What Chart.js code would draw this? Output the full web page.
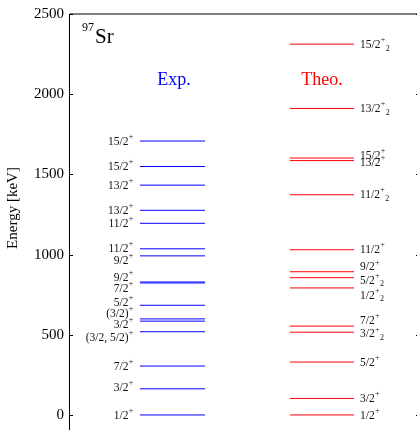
<!DOCTYPE html>
<html>
<head>
<meta charset="utf-8">
<script src="https://cdn.jsdelivr.net/npm/chart.js@4/dist/chart.umd.min.js"></script>
<style>
  html, body { margin: 0; padding: 0; overflow: hidden; background: #fff; }
</style>
</head>
<body>
<canvas id="c" width="422" height="445"></canvas>
<script>
// 97Sr level scheme, experiment vs theory (energies in keV)
const expEnergies = [0, 163, 305, 519, 585, 599, 684, 823, 829, 992, 1036, 1195, 1276, 1433, 1549, 1708];
const expLabels = ['1/2^+', '3/2^+', '7/2^+', '(3/2, 5/2)^+', '3/2^+', '(3/2)^+', '5/2^+', '7/2^+', '9/2^+',
  '9/2^+', '11/2^+', '11/2^+', '13/2^+', '13/2^+', '15/2^+', '15/2^+'];
const theoEnergies = [0, 103, 330, 516, 554, 792, 856, 893, 1030, 1373, 1586, 1602, 1911, 2312];
const theoLabels = ['1/2^+', '3/2^+', '5/2^+', '3/2^+_2', '7/2^+', '1/2^+_2', '5/2^+_2', '9/2^+', '11/2^+',
  '11/2^+_2', '13/2^+', '15/2^+', '13/2^+_2', '15/2^+_2'];
const yTicks = [0, 500, 1000, 1500, 2000, 2500];

// label heights (keV) after spreading them apart so they don't overlap
const expLabelAt = [-7, 167, 299, 483, 563, 632, 700, 787, 856, 963, 1035, 1190, 1273, 1427, 1545, 1700];
const theoLabelAt = [-7, 97, 326, 502, 589, 744, 837, 920, 1029, 1369, 1571, 1615, 1906, 2307];

const SERIF = '"Liberation Serif", "DejaVu Serif", serif';
const BLUE = '#0000ff';
const RED = '#ff0000';

// each level = short horizontal segment, a null point breaks the line
const levels = (energies, x0, x1) =>
  energies.flatMap((e) => [{ x: x0, y: e }, { x: x1, y: e }, { x: x1, y: null }]);

// "15/2^+_2" -> main text, superscript, subscript
function drawLabel(ctx, text, x, y, align) {
  const [main, rest = ''] = text.split('^');
  const [sup = '', sub = ''] = rest.split('_');
  ctx.font = `11.5px ${SERIF}`;
  const wMain = ctx.measureText(main).width;
  ctx.font = `8px ${SERIF}`;
  const wSup = ctx.measureText(sup).width;
  const wSub = sub ? ctx.measureText(sub).width + 0.5 : 0;
  const left = align === 'right' ? x - (wMain + wSup + wSub) : x;
  ctx.textAlign = 'left';
  ctx.textBaseline = 'middle';
  ctx.font = `11.5px ${SERIF}`;
  ctx.fillText(main, left, y);
  ctx.font = `8px ${SERIF}`;
  ctx.fillText(sup, left + wMain + 0.3, y - 5);
  if (sub) ctx.fillText(sub, left + wMain + wSup + 0.8, y + 3.5);
}

const decor = {
  id: 'decor',
  afterDraw(chart) {
    const { ctx, chartArea: a, scales: { x, y } } = chart;
    ctx.save();

    // frame + inward ticks
    ctx.strokeStyle = '#000';
    ctx.lineWidth = 1;
    ctx.beginPath();
    ctx.moveTo(a.left + 0.5, a.bottom);
    ctx.lineTo(a.left + 0.5, a.top);
    ctx.lineTo(a.right - 0.5, a.top);
    ctx.lineTo(a.right - 0.5, a.bottom);
    yTicks.forEach((v) => {
      const py = Math.round(y.getPixelForValue(v)) + 0.5;
      ctx.moveTo(a.left + 0.5, py); ctx.lineTo(a.left + 4, py);
      ctx.moveTo(a.right - 0.5, py); ctx.lineTo(a.right - 4, py);
    });
    ctx.stroke();

    // level labels
    ctx.fillStyle = '#111';
    expLabels.forEach((t, i) => drawLabel(ctx, t, x.getPixelForValue(64), y.getPixelForValue(expLabelAt[i]), 'right'));
    theoLabels.forEach((t, i) => drawLabel(ctx, t, x.getPixelForValue(291), y.getPixelForValue(theoLabelAt[i]), 'left'));

    // column headers
    ctx.textAlign = 'center';
    ctx.textBaseline = 'alphabetic';
    ctx.font = `18px ${SERIF}`;
    ctx.fillStyle = BLUE;
    ctx.fillText('Exp.', x.getPixelForValue(105), a.top + 71);
    ctx.fillStyle = RED;
    ctx.fillText('Theo.', x.getPixelForValue(253), a.top + 71);

    // nucleus tag
    ctx.fillStyle = '#000';
    ctx.textAlign = 'left';
    ctx.font = `12px ${SERIF}`;
    ctx.fillText('97', a.left + 13, a.top + 17);
    const w97 = ctx.measureText('97').width;
    ctx.font = `21px ${SERIF}`;
    ctx.fillText('Sr', a.left + 14 + w97, a.top + 29);

    // y title
    ctx.translate(17, 208);
    ctx.rotate(-Math.PI / 2);
    ctx.textAlign = 'center';
    ctx.font = `15px ${SERIF}`;
    ctx.fillText('Energy [keV]', 0, 0);
    ctx.restore();
  }
};

new Chart(document.getElementById('c'), {
  type: 'line',
  data: {
    datasets: [
      { data: levels(expEnergies, 71, 136), borderColor: BLUE, borderWidth: 1, pointRadius: 0, spanGaps: false },
      { data: levels(theoEnergies, 221, 285), borderColor: RED, borderWidth: 1, pointRadius: 0, spanGaps: false },
    ],
  },
  options: {
    responsive: false,
    animation: false,
    devicePixelRatio: 1,
    layout: { padding: { top: 13, right: 2, bottom: 13, left: 0 } },
    plugins: { legend: { display: false }, tooltip: { enabled: false } },
    scales: {
      x: { type: 'linear', display: false, min: 0, max: 351 },
      y: {
        min: -100, max: 2500,
        afterBuildTicks: (s) => { s.ticks = yTicks.map((v) => ({ value: v })); },
        afterFit: (s) => { s.width = 69; },
        grid: { display: false, drawTicks: false },
        border: { display: false },
        ticks: { color: '#000', padding: 5, font: { family: SERIF, size: 15 }, callback: (v) => String(v) },
      },
    },
  },
  plugins: [decor],
});
</script>
</body>
</html>
